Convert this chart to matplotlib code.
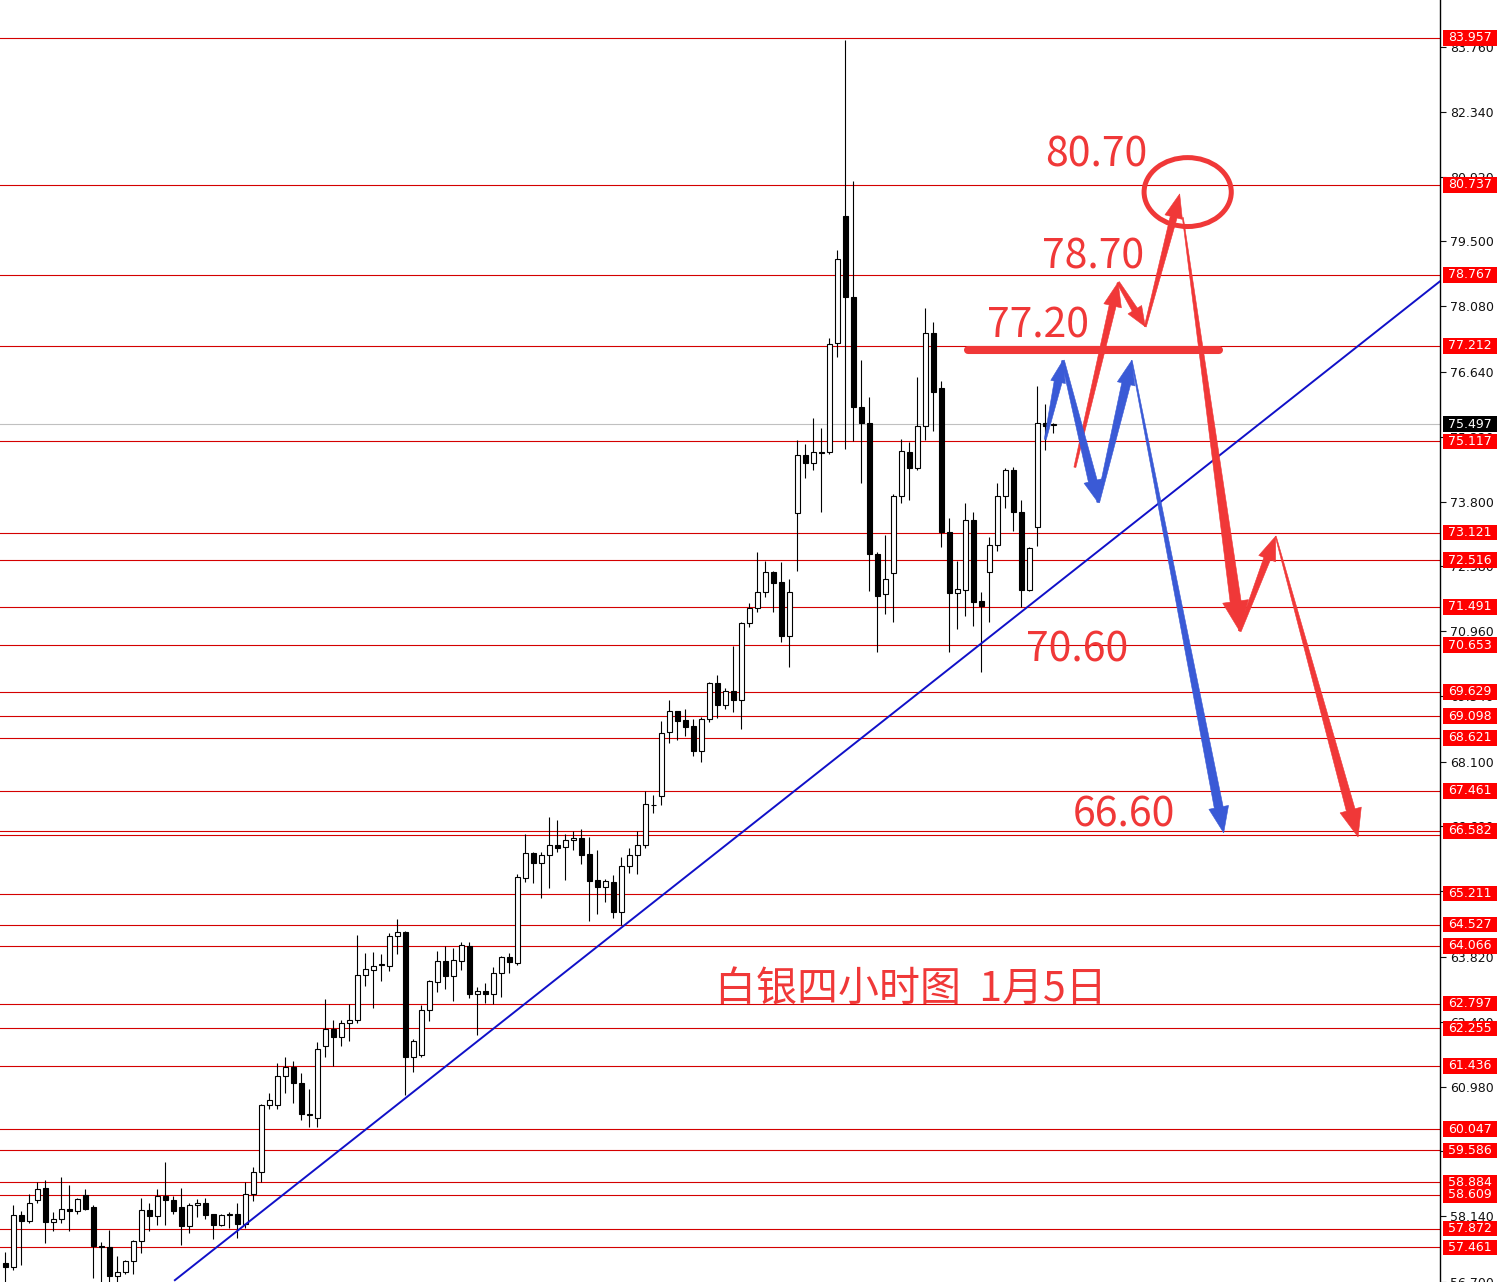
"""
Silver 4H chart with support/resistance levels and scenario arrows.
"""
import matplotlib
matplotlib.use("Agg")
import matplotlib.pyplot as plt
from matplotlib.patches import Polygon, Ellipse, Rectangle
from matplotlib.transforms import blended_transform_factory
import numpy as np

# ── candles (4h, oldest first) ───────────────────────────────────────────────
opens = [57.11, 57.02, 58.16, 58.03, 58.49, 58.75, 58.01, 58.07, 58.29, 58.25,
         58.60, 58.34, 57.48, 57.46, 56.83, 56.91, 57.15, 57.59, 58.27, 58.14,
         58.58, 58.49, 58.34, 57.92, 58.38, 58.42, 58.18, 57.94, 58.16, 58.18,
         57.96, 58.62, 59.12, 60.57, 60.57, 61.22, 61.40, 61.07, 60.39, 60.30,
         61.86, 62.25, 62.06, 62.38, 62.45, 63.43, 63.54, 63.65, 63.63, 64.29,
         64.37, 61.64, 61.68, 62.65, 63.28, 63.74, 63.41, 63.74, 64.07, 63.00,
         63.08, 63.00, 63.48, 63.83, 63.70, 65.56, 66.10, 65.88, 66.06, 66.28,
         66.23, 66.39, 66.43, 66.08, 65.51, 65.36, 65.47, 64.81, 65.82, 66.06,
         66.28, 67.15, 67.35, 68.75, 69.21, 69.01, 68.88, 68.33, 69.03, 69.82,
         69.34, 69.65, 69.45, 71.13, 71.46, 71.81, 72.25, 72.03, 70.85, 73.54,
         74.81, 74.64, 74.88, 74.88, 77.28, 80.06, 78.29, 75.86, 75.53, 72.65,
         71.77, 72.23, 73.91, 74.88, 74.53, 75.45, 77.50, 76.28, 73.13, 71.79,
         71.86, 73.39, 71.62, 72.25, 72.84, 73.91, 74.48, 73.56, 71.86, 73.24,
         75.53, 75.47]
highs = [57.35, 58.38, 58.25, 58.62, 58.88, 58.93, 58.23, 58.99, 58.82, 58.55,
         58.73, 58.38, 57.57, 57.83, 57.26, 57.18, 57.61, 58.53, 58.42, 58.73,
         59.34, 58.58, 58.77, 58.42, 58.51, 58.55, 58.18, 58.20, 58.23, 58.42,
         58.90, 59.23, 60.59, 60.83, 61.49, 61.62, 61.55, 61.29, 60.92, 61.95,
         62.89, 62.43, 62.43, 62.80, 64.31, 63.91, 63.94, 63.89, 64.35, 64.66,
         64.38, 62.03, 62.76, 63.32, 63.96, 64.07, 64.02, 64.16, 64.16, 63.17,
         63.24, 63.61, 63.85, 63.91, 65.64, 66.52, 66.12, 66.12, 66.89, 66.83,
         66.52, 66.58, 66.63, 66.45, 66.17, 65.53, 65.62, 66.02, 66.21, 66.58,
         67.46, 67.37, 68.99, 69.45, 69.22, 69.25, 69.03, 69.08, 69.84, 70.00,
         69.71, 70.63, 71.16, 71.57, 72.69, 72.49, 72.27, 72.47, 72.10, 75.14,
         75.05, 75.62, 75.40, 77.39, 79.32, 83.91, 80.83, 76.91, 76.10, 72.69,
         73.06, 73.96, 75.16, 75.10, 76.52, 78.05, 77.74, 76.43, 73.43, 72.49,
         73.76, 73.56, 71.81, 73.02, 74.20, 74.53, 74.55, 73.83, 72.80, 76.32,
         75.93, 75.53]
lows = [56.56, 56.96, 57.07, 57.99, 58.42, 57.55, 57.81, 57.99, 57.81, 58.20,
        58.27, 56.78, 56.56, 56.56, 56.61, 56.87, 56.87, 57.33, 57.81, 57.94,
        57.94, 58.20, 57.50, 57.77, 58.12, 58.09, 57.64, 57.92, 57.88, 57.66,
        57.88, 58.47, 58.88, 60.48, 60.50, 60.83, 60.63, 60.24, 60.09, 60.09,
        61.64, 61.44, 61.88, 61.97, 62.38, 63.19, 62.71, 63.30, 63.52, 63.89,
        60.79, 61.31, 61.64, 62.41, 63.06, 63.11, 62.86, 63.54, 62.93, 62.12,
        62.82, 62.78, 62.95, 63.46, 63.65, 65.47, 65.45, 65.12, 65.34, 66.12,
        65.51, 66.17, 65.86, 64.61, 64.77, 65.03, 64.68, 64.53, 65.67, 65.64,
        66.21, 66.98, 67.15, 68.51, 68.58, 68.66, 68.22, 68.09, 68.97, 69.06,
        69.25, 69.19, 68.82, 71.05, 71.38, 71.70, 71.38, 70.72, 70.17, 72.27,
        74.31, 74.48, 73.56, 74.85, 76.96, 74.94, 75.12, 74.20, 71.84, 70.50,
        71.33, 71.16, 73.76, 73.83, 74.50, 75.14, 75.34, 72.80, 70.50, 71.00,
        71.29, 71.07, 70.06, 71.16, 72.71, 73.65, 73.15, 71.49, 71.85, 72.82,
        74.92, 75.31]
closes = [57.02, 58.16, 58.03, 58.44, 58.73, 58.01, 58.07, 58.29, 58.25, 58.51,
          58.31, 57.48, 57.46, 56.83, 56.91, 57.15, 57.59, 58.27, 58.14, 58.58,
          58.49, 58.25, 57.92, 58.38, 58.44, 58.16, 57.94, 58.16, 58.20, 57.96,
          58.62, 59.12, 60.57, 60.68, 61.22, 61.40, 61.07, 60.39, 60.35, 61.81,
          62.25, 62.06, 62.38, 62.45, 63.43, 63.56, 63.63, 63.66, 64.29, 64.37,
          61.62, 61.97, 62.65, 63.30, 63.74, 63.41, 63.76, 64.09, 63.00, 63.08,
          63.00, 63.48, 63.83, 63.72, 65.58, 66.10, 65.88, 66.06, 66.28, 66.21,
          66.39, 66.43, 66.06, 65.49, 65.36, 65.49, 64.81, 65.82, 66.06, 66.28,
          67.17, 67.16, 68.73, 69.21, 68.99, 68.86, 68.33, 69.03, 69.82, 69.34,
          69.65, 69.45, 71.13, 71.46, 71.81, 72.25, 72.01, 70.85, 71.81, 74.81,
          74.64, 74.88, 74.87, 77.26, 79.12, 78.27, 75.86, 75.51, 72.65, 71.73,
          72.10, 73.91, 74.90, 74.53, 75.45, 77.50, 76.21, 73.13, 71.79, 71.88,
          73.39, 71.59, 71.51, 72.84, 73.91, 74.48, 73.56, 71.86, 72.78, 75.53,
          75.45, 75.50]

# ── levels and scale ─────────────────────────────────────────────────────────
levels = [83.957, 80.737, 78.767, 77.212, 75.117, 73.121, 72.516, 71.491,
          70.653, 69.629, 69.098, 68.621, 67.461, 66.582, 65.211, 64.527,
          64.066, 62.797, 62.255, 61.436, 60.047, 59.586, 58.884, 58.609,
          57.872, 57.461]
extra_levels = [66.49]
last_price = 75.497
axis_ticks = [83.760, 82.340, 80.920, 79.500, 78.080, 76.640, 75.220, 73.800,
              72.380, 70.960, 69.540, 68.100, 66.680, 65.260, 63.820, 62.400,
              60.980, 59.560, 58.140, 56.700]

# trend line (bar index, price)
trend_x = [21.2, 179.3]
trend_y = [56.74, 78.62]

# scenario paths (bar index, price)
red_path = [(133.7, 74.55), (139.1, 78.60), (142.5, 77.63), (146.8, 80.54)]
red_drop = [(147.2, 80.02), (154.3, 70.96), (158.8, 73.04), (169.1, 66.45)]
blue_path = [(130.0, 75.16), (132.2, 76.89), (136.6, 73.78), (140.8, 76.89),
             (152.3, 66.54)]
target_labels = ["80.70", "78.70", "77.20", "70.60", "66.60"]
target_pos = [(130.0, 81.13), (129.6, 78.90), (122.7, 77.39), (127.6, 70.30),
              (133.4, 66.67)]

RED = "#f03838"
BLUE = "#3a5ad6"
LEVEL_RED = "#d40000"
CJK = ["Noto Sans CJK SC", "DejaVu Sans"]

W, H = 1501, 1282
fig = plt.figure(figsize=(W / 100, H / 100), dpi=100)
fig.patch.set_facecolor("white")
ax = fig.add_axes([0, 0, 1440 / W, 1])
ax.set_xlim(-0.66, 179.34)
ax.set_ylim(56.738, 84.788)

for s in ["top", "left", "bottom"]:
    ax.spines[s].set_visible(False)
ax.spines["right"].set_linewidth(1.0)
ax.set_xticks([])
ax.yaxis.tick_right()
ax.set_yticks(axis_ticks)
ax.set_yticklabels([f"{t:.3f}" for t in axis_ticks])
ax.tick_params(axis="y", length=4, width=0.8, pad=3, labelsize=9,
               colors="#111111")

# level lines
for lv in levels + extra_levels:
    ax.axhline(lv, color=LEVEL_RED, lw=0.8, zorder=1)
ax.axhline(last_price, color="#c0c0c0", lw=0.8, zorder=1)

# candles
idx = np.arange(len(opens))
o = np.array(opens); c = np.array(closes)
ax.vlines(idx, lows, highs, color="black", lw=0.8, zorder=2)
face = np.where(c >= o, "white", "black")
ax.bar(idx, np.abs(c - o), bottom=np.minimum(o, c), width=0.62,
       color=face, edgecolor="black", lw=0.8, zorder=3)

# trend line
ax.plot(trend_x, trend_y, color="#1010c8", lw=1.4, zorder=4)


def taper_arrow(p0, p1, w0, w1, hw, hl, color):
    t = ax.transData
    a = t.transform(p0)
    b = t.transform(p1)
    d = b - a
    u = d / np.hypot(*d)
    n = np.array([-u[1], u[0]])
    base = b - u * hl
    pts = [a + n * w0 / 2, base + n * w1 / 2, base + n * hw / 2, b,
           base - n * hw / 2, base - n * w1 / 2, a - n * w0 / 2]
    ax.add_patch(Polygon(t.inverted().transform(pts), closed=True, fc=color,
                         ec=color, lw=0.4, zorder=6))


# red scenario
red_style = [(2, 7, 18, 24), (3, 6, 16, 20), (2, 7, 18, 24)]
for (p0, p1), st in zip(zip(red_path[:-1], red_path[1:]), red_style):
    taper_arrow(p0, p1, *st, RED)
drop_style = [(1, 11, 26, 30), (3, 7, 18, 24), (1, 9, 22, 28)]
for (p0, p1), st in zip(zip(red_drop[:-1], red_drop[1:]), drop_style):
    taper_arrow(p0, p1, *st, RED)

# blue scenario
blue_style = [(2, 8, 15, 22), (3, 9, 18, 22), (3, 9, 18, 24), (1, 9, 20, 26)]
for (p0, p1), st in zip(zip(blue_path[:-1], blue_path[1:]), blue_style):
    taper_arrow(p0, p1, *st, BLUE)

# 77.20 marker bar and circle at 80.70
ax.plot([120.3, 151.7], [77.13, 77.13], color=RED, lw=5.8,
        solid_capstyle="round", zorder=5)
ax.add_patch(Ellipse((147.8, 80.58), 10.9, 1.51, fill=False, ec=RED,
                     lw=3.6, zorder=6))

# target texts
for lab, (x, y) in zip(target_labels, target_pos):
    ax.text(x, y, lab, color=RED, fontsize=29.5, ha="left", va="baseline",
            family=CJK, zorder=7)
ax.text(88.7, 62.84, "白银四小时图  1月5日", color=RED, fontsize=29.5,
        ha="left", va="baseline", family=CJK, zorder=7)

# price boxes on the scale
tr = blended_transform_factory(ax.transAxes, ax.transData)
box_h = 15.5 / 45.705
for lv, fc in [(v, "#ff0000") for v in levels] + [(last_price, "black")]:
    ax.add_patch(Rectangle((1443 / 1440, lv - box_h / 2), 54 / 1440, box_h,
                           transform=tr, fc=fc, ec="none", clip_on=False,
                           zorder=8))
    ax.text(1470 / 1440, lv, f"{lv:.3f}", transform=tr, color="white",
            fontsize=9, ha="center", va="center", clip_on=False, zorder=9)

fig.savefig("out.png", dpi=100)
plt.close(fig)
print("Saved: out.png")
